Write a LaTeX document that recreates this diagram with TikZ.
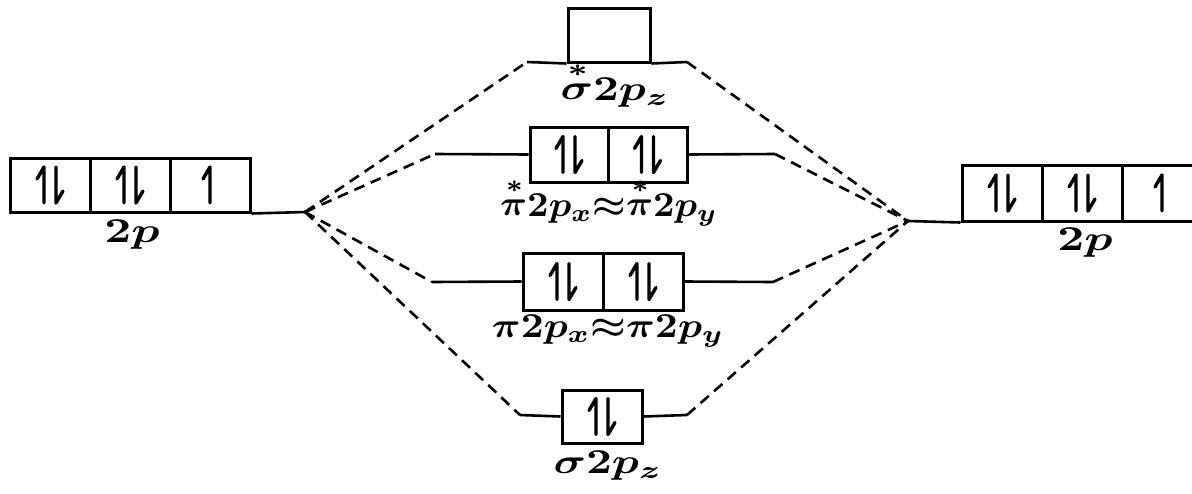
\documentclass[tikz,border=0pt]{standalone}
\newcommand\biglab[2][3.9]{\scalebox{#1}[3.5]{#2}}
\begin{document}
\begin{tikzpicture}[x=1pt,y=-1pt,
  obox/.style={draw, line width=3pt, minimum width=80pt, minimum height=55pt, inner sep=0pt},
  level/.style={line width=2.6pt},
  link/.style={line width=2.6pt, dash pattern=on 11pt off 7pt},
  spin/.style={line width=3.4pt, line cap=round, line join=round},
  lab/.style={font=\boldmath, inner sep=0pt, anchor=base},
  upspin/.pic={\draw[spin] (0,18) -- (0,-18) -- (-7,-6);},
  dnspin/.pic={\draw[spin] (0,-18) -- (0,18) -- (7,6);}
]
\useasboundingbox (0,0) rectangle (1192,493);
\clip (0,0) rectangle (1192,493);

% left atom 2p
\node[obox, minimum height=54pt] (L1) at (50,185) {};
\node[obox, minimum height=54pt] (L2) at (130,185) {};
\node[obox, minimum height=54pt] (L3) at (210,185) {};
\coordinate (cl) at (305,212);
\draw[level] (L3.south east) -- (cl);
\node[lab] (lL) at (132,242) {\biglab[4.7]{$2p$}};

% right atom 2p
\node[obox, minimum height=56pt] (R1) at (1002,193) {};
\node[obox, minimum height=56pt] (R2) at (1082,193) {};
\node[obox, minimum height=56pt] (R3) at (1162,193) {};
\coordinate (cr) at (908,221);
\draw[level] (cr) -- (R1.south west);
\node[lab] (lR) at (1085,250) {\biglab[4.7]{$2p$}};

% sigma* 2pz
\node[obox, minimum width=82pt, minimum height=54pt] (SA) at (609,35) {};
\coordinate (sa1) at (527,62);
\coordinate (sa2) at (687,62);
\draw[level] (sa1) -- (SA.south west) (SA.south east) -- (sa2);
\draw[link] (cl) -- (sa1);
\draw[link] (sa2) -- (cr);
\node[lab] (lSA) at (615,100) {\biglab[4.5]{${\stackrel{*}{\sigma}}2p_z$}};

% pi* 2px, 2py
\node[obox, minimum width=78pt] (PA1) at (569,154.5) {};
\node[obox, minimum width=79pt] (PA2) at (647.5,154.5) {};
\coordinate (pa1) at (435,154);
\coordinate (pa2) at (775,154);
\draw[level] (pa1) -- (PA1.west) (PA2.east) -- (pa2);
\draw[link] (cl) -- (pa1);
\draw[link] (pa2) -- (cr);
\node[lab] (lPA) at (609,216) {\biglab[3.75]{${\stackrel{*}{\pi}}2p_x{\approx}{\stackrel{*}{\pi}}2p_y$}};

% pi 2px, 2py
\node[obox, minimum width=80pt, minimum height=57pt] (PB1) at (563,281.5) {};
\node[obox, minimum width=80pt, minimum height=57pt] (PB2) at (643,281.5) {};
\coordinate (pb1) at (432,282);
\coordinate (pb2) at (773,282);
\draw[level] (pb1) -- (PB1.west) (PB2.east) -- (pb2);
\draw[link] (cl) -- (pb1);
\draw[link] (pb2) -- (cr);
\node[lab] (lPB) at (608,337) {\biglab[4]{$\pi2p_x{\approx}\pi2p_y$}};

% sigma 2pz
\node[obox, minimum width=80pt, minimum height=53pt] (SB) at (602,416.5) {};
\coordinate (sb1) at (520,415);
\coordinate (sb2) at (687,415);
\draw[level] (sb1) -- (SB.west) (SB.east) -- (sb2);
\draw[link] (cl) -- (sb1);
\draw[link] (sb2) -- (cr);
\node[lab] (lSB) at (608,473) {\biglab[4.5]{$\sigma2p_z$}};

% electrons
\foreach \n in {L1,L2,R1,R2,PA1,PA2,PB1,PB2,SB}{
  \pic at ([xshift=-6pt]\n.center) {upspin};
  \pic at ([xshift=6pt]\n.center) {dnspin};
}
\foreach \n in {L3,R3}{
  \pic at (\n.center) {upspin};
}
\end{tikzpicture}
\end{document}
